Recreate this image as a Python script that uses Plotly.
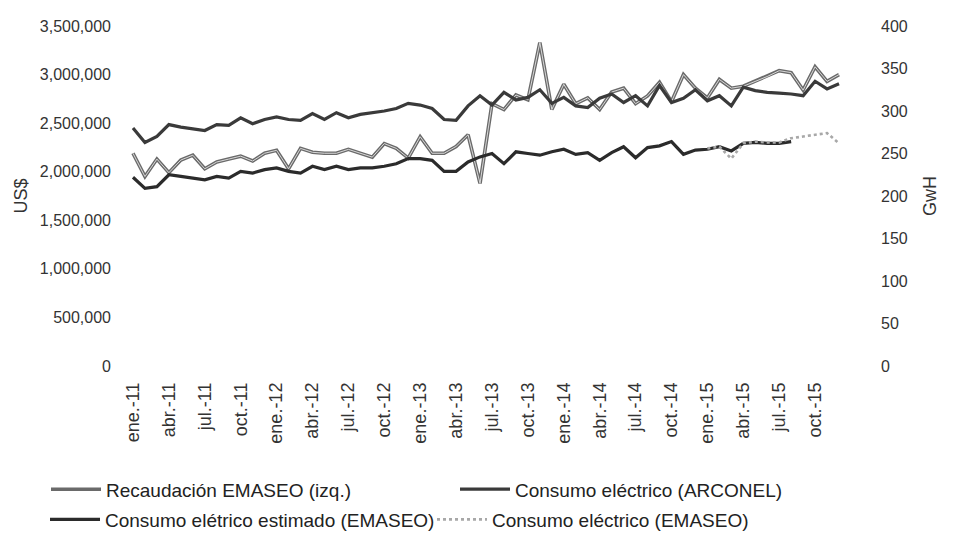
import plotly.graph_objects as go

months_es = ["ene.", "feb.", "mar.", "abr.", "may.", "jun.", "jul.", "ago.", "sep.", "oct.", "nov.", "dic."]
years = ["11", "12", "13", "14", "15"]
categories = [f"{m}-{y}" for y in years for m in months_es]

# Recaudación EMASEO (US$, left axis)
recaudacion = [
    2190000, 1950000, 2130000, 1990000, 2120000, 2170000, 2030000, 2100000, 2130000, 2160000, 2110000, 2190000,
    2220000, 2030000, 2240000, 2200000, 2190000, 2190000, 2230000, 2190000, 2150000, 2290000, 2240000, 2140000,
    2360000, 2190000, 2190000, 2260000, 2380000, 1880000, 2700000, 2640000, 2790000, 2740000, 3330000, 2640000,
    2900000, 2700000, 2760000, 2640000, 2820000, 2860000, 2700000, 2780000, 2920000, 2720000, 3000000, 2860000,
    2760000, 2950000, 2860000, 2880000, 2930000, 2980000, 3040000, 3020000, 2840000, 3080000, 2930000, 3000000,
]

# Consumo eléctrico ARCONEL (GWh, right axis)
arconel = [
    280, 263, 270, 284, 281, 279, 277, 284, 283, 292, 285, 290,
    293, 290, 289, 297, 290, 298, 292, 296, 298, 300, 303, 309,
    307, 303, 290, 289, 306, 318, 307, 322, 313, 316, 325, 309,
    316, 306, 304, 315, 320, 310, 318, 306, 330, 310, 315, 325,
    312, 318, 306, 328, 324, 322, 321, 320, 318, 335, 326, 332,
]

# Consumo eléctrico estimado EMASEO (GWh, right axis)
estimado = [
    222, 209, 211, 225, 223, 221, 219, 223, 221, 229, 227, 231,
    233, 229, 227, 235, 231, 235, 231, 233, 233, 235, 238, 244,
    244, 242, 229, 229, 240, 246, 250, 238, 252, 250, 248, 252,
    255, 249, 251, 242, 251, 258, 245, 257, 259, 264, 249, 254,
    255, 258, 253, 262, 263, 262, 262, 264, None, None, None, None,
]

# Consumo eléctrico EMASEO (GWh, right axis)
emaseo = [None] * 48 + [256, 258, 244, 262, 264, 263, 263, 268, 270, 272, 274, 262]

xi = list(range(len(categories)))
tick_idx = xi[::3]
tick_txt = categories[::3]

FONT = "Liberation Sans, Arial, sans-serif"

W, H = 966, 541
L, R, T, B = 119, 837, 10, 360
ph = B - T


def py(Y):
    return (B - Y) / ph


def px(X):
    return (X - L) / (R - L)


fig = go.Figure()

fig.add_trace(go.Scatter(x=xi, y=estimado, yaxis="y2", mode="lines",
                         name="Consumo elétrico estimado (EMASEO)",
                         line=dict(color="#2b2b2b", width=3.2), legend="legend3"))
fig.add_trace(go.Scatter(x=xi, y=emaseo, yaxis="y2", mode="lines",
                         name="Consumo eléctrico (EMASEO)",
                         line=dict(color="#a8a8a8", width=2.6, dash="dot"), legend="legend4"))
fig.add_trace(go.Scatter(x=xi, y=arconel, yaxis="y2", mode="lines",
                         name="Consumo eléctrico (ARCONEL)",
                         line=dict(color="#3a3a3a", width=3.2), legend="legend2"))
fig.add_trace(go.Scatter(x=xi, y=recaudacion, yaxis="y", mode="lines",
                         name="Recaudación EMASEO (izq.)",
                         line=dict(color="#6a6a6a", width=3.6), legend="legend"))
fig.add_trace(go.Scatter(x=xi, y=recaudacion, yaxis="y", mode="lines",
                         showlegend=False, hoverinfo="skip",
                         line=dict(color="#d8d8d8", width=1.0)))


def leg(xpix, ypix):
    return dict(orientation="h", x=px(xpix), xanchor="left", y=py(ypix), yanchor="middle",
                itemwidth=50, font=dict(family=FONT, size=19, color="#222222"),
                bgcolor="rgba(0,0,0,0)", borderwidth=0)


fig.update_layout(
    width=W, height=H,
    margin=dict(l=L, r=W - R, t=T, b=H - B),
    paper_bgcolor="white", plot_bgcolor="white",
    font=dict(family=FONT, size=16, color="#222222"),
    xaxis=dict(range=[-0.5, 59.5], tickmode="array", tickvals=tick_idx, ticktext=tick_txt,
               tickangle=-90, showgrid=False, zeroline=False, showline=False, ticks="",
               ticklabelstandoff=12,
               tickfont=dict(size=18, color="#333333")),
    yaxis=dict(range=[0, 3500000], dtick=500000, tickformat=",d", showgrid=False,
               zeroline=False, showline=False, ticks="", ticklabelstandoff=15,
               title=dict(text="US$", standoff=7, font=dict(size=18, color="#333333")),
               tickfont=dict(size=16, color="#333333")),
    yaxis2=dict(range=[0, 400], dtick=50, overlaying="y", side="right", showgrid=False,
                zeroline=False, showline=False, ticks="", ticklabelstandoff=35,
                title=dict(text="GwH", standoff=16, font=dict(size=18, color="#333333")),
                tickfont=dict(size=16, color="#333333")),
    legend=leg(38, 487),
    legend2=leg(447, 487),
    legend3=leg(37, 518),
    legend4=leg(424, 518),
    showlegend=True,
)

fig.write_html("out.html")
